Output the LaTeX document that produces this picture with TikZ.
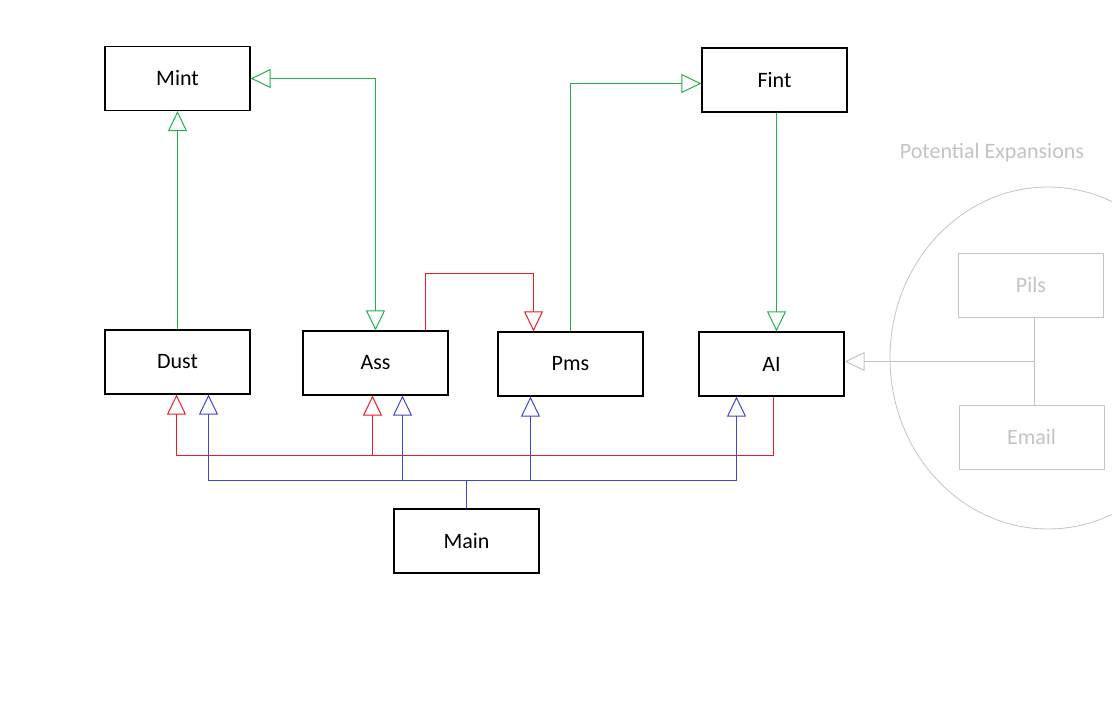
\documentclass[tikz,border=0pt]{standalone}
\usepackage{fontspec}
\setmainfont{Carlito}
\usetikzlibrary{arrows.meta,calc}
\definecolor{paintgreen}{RGB}{34,177,76}
\definecolor{paintred}{RGB}{237,28,36}
\definecolor{paintblue}{RGB}{63,72,204}
\definecolor{paintgray}{RGB}{195,195,195}
\tikzset{mod/.style={draw=black,line width=1.2bp,minimum width=145bp,minimum height=64bp,inner sep=0pt,font=\fontsize{22bp}{26bp}\selectfont},
ghost/.style={mod,draw=paintgray,text=paintgray,line width=1bp},
tri/.style={-{Triangle[open,length=20bp,width=19bp]}},
twotri/.style={{Triangle[open,length=20bp,width=19bp]}-{Triangle[open,length=20bp,width=19bp]}},
gline/.style={paintgreen,line width=1bp},
rline/.style={paintred,line width=1bp},
bline/.style={paintblue,line width=1bp},
greyline/.style={paintgray,line width=1bp}}

\begin{document}
\begin{tikzpicture}[x=1bp,y=-1bp]
\useasboundingbox (0,0) rectangle (1112,713);

% modules
\node[mod] (Mint) at (177.5,78.5) {Mint};
\node[mod] (Fint) at (774.5,80) {Fint};
\node[mod] (Dust) at (177.5,362) {Dust};
\node[mod] (Ass) at (375.5,363) {Ass};
\node[mod] (Pms) at (570.5,364) {Pms};
\node[mod] (AI) at (771.5,364) {AI};
\node[mod] (Main) at (466.5,541) {Main};

% expansions
\draw[paintgray,line width=0.8bp] (1048,358) ellipse [x radius=158, y radius=171];
\node[text=paintgray,font=\fontsize{22bp}{26bp}\selectfont] (pot) at (992,153) {Potential Expansions};
\node[ghost] (Pils) at (1031,285) {Pils};
\node[ghost] (Email) at (1031.5,437) {Email};
\coordinate (junc) at ($(Pils.south)+(3.5,0)$);
\draw[greyline] (junc) -- (junc |- Email.north);
\draw[greyline,tri] (junc |- 0,361.5) -- (AI.east |- 0,361.5);

% green links
\coordinate (fP) at ($(Fint.west)+(0,3.5)$);
\coordinate (fA) at ($(Fint.south)+(2,0)$);
\draw[gline,tri] (Dust.north) -- (Mint.south);
\draw[gline,twotri] (Mint.east) -| (Ass.north);
\draw[gline,tri] (Pms.north) |- (fP);
\draw[gline,tri] (fA) -- (fA |- AI.north);

% red links
\coordinate (rbus) at (0,455.5);
\coordinate (rA) at ($(AI.south)+(2,0)$);
\coordinate (rD) at ($(Dust.south)+(-1,0)$);
\coordinate (rS) at ($(Ass.south)+(-3,0)$);
\coordinate (rP) at ($(Pms.north)+(-37,0)$);
\coordinate (rQ) at ($(Ass.north)+(50,0)$);
\draw[rline,tri] (rQ) -- (rQ |- 0,273.5) -| (rP);
\draw[rline,tri] (rA) |- (rbus -| rD) -- (rD);
\draw[rline,tri] (rbus -| rS) -- (rS);

% blue links
\coordinate (bbus) at (0,480.5);
\coordinate (bD) at ($(Dust.south)+(31,0)$);
\coordinate (bS) at ($(Ass.south)+(27,0)$);
\coordinate (bP) at ($(Pms.south)+(-40,0)$);
\coordinate (bA) at ($(AI.south)+(-35,0)$);
\draw[bline] (Main.north) -- (Main.north |- bbus);
\draw[bline] (bbus -| bD) -- (bbus -| bA);
\draw[bline,tri] (bbus -| bD) -- (bD);
\draw[bline,tri] (bbus -| bS) -- (bS);
\draw[bline,tri] (bbus -| bP) -- (bP);
\draw[bline,tri] (bbus -| bA) -- (bA);

\end{tikzpicture}
\end{document}
